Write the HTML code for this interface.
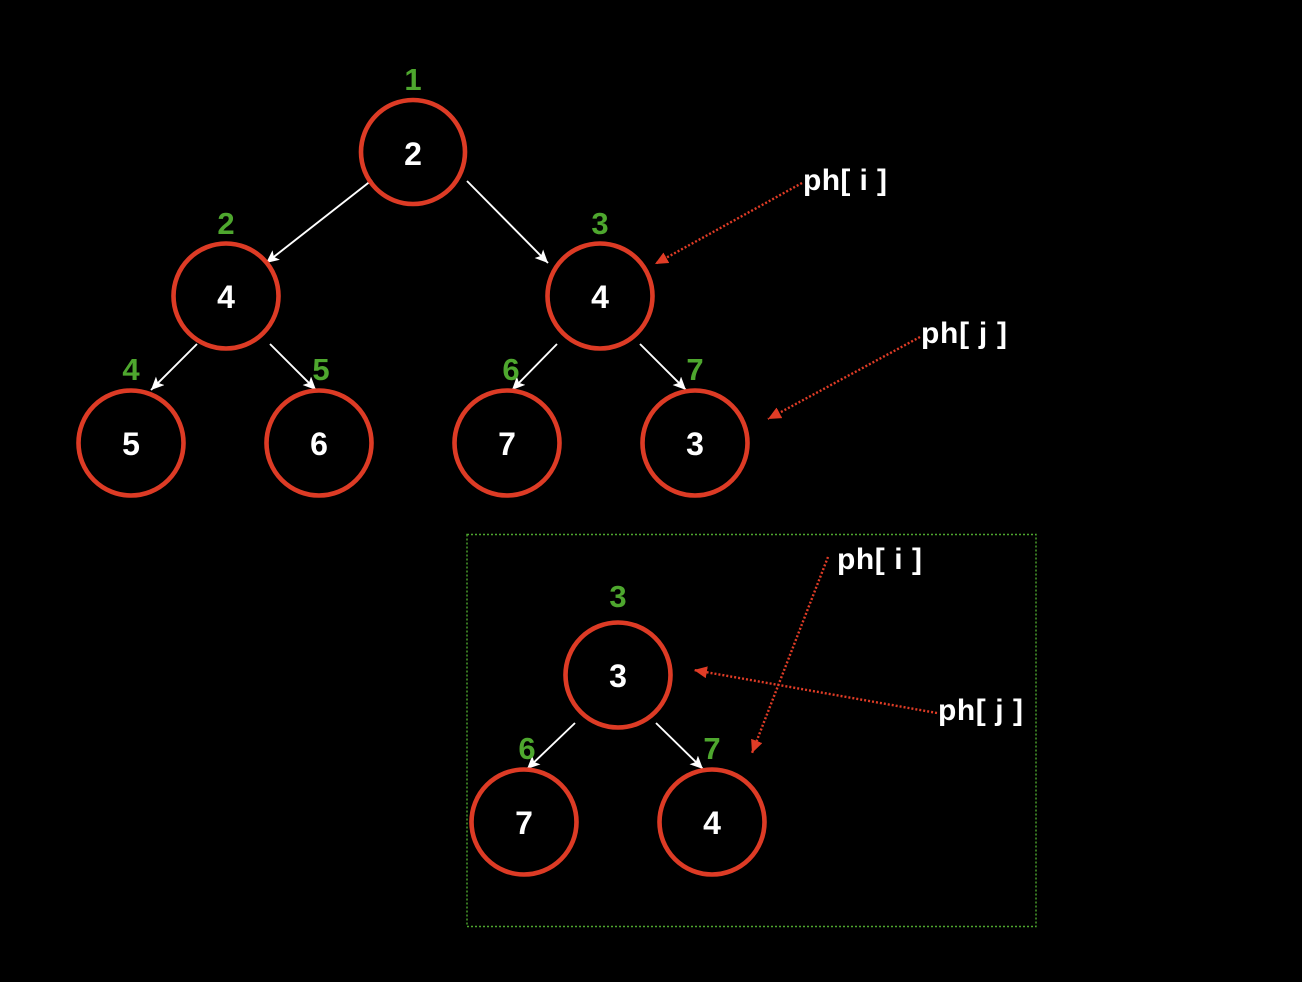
<!DOCTYPE html>
<html><head><meta charset="utf-8"><style>
html,body{margin:0;padding:0;background:#000;}
svg{display:block;}
text{font-family:"Liberation Sans",Arial,sans-serif;font-weight:bold;}
</style></head><body>
<svg width="1302" height="982" viewBox="0 0 1302 982" xmlns="http://www.w3.org/2000/svg">
<defs>
<marker id="wa" markerUnits="userSpaceOnUse" markerWidth="16" markerHeight="14" refX="13" refY="6" orient="auto">
<path d="M0,0 L13,6 L0,12 L3,6 z" fill="#fff"/>
</marker>
<marker id="ra" markerUnits="userSpaceOnUse" markerWidth="16" markerHeight="14" refX="13" refY="6" orient="auto">
<path d="M0,0 L13,6 L0,12 z" fill="#e03c26"/>
</marker>
</defs>
<rect x="0" y="0" width="1302" height="982" fill="#000"/>

<!-- green dotted box -->
<rect x="467" y="534.5" width="569" height="392" fill="none" stroke="#4ea72e" stroke-width="1.4" stroke-dasharray="2,2"/>

<!-- white arrows -->
<g stroke="#fff" stroke-width="1.9" fill="none" marker-end="url(#wa)">
<line x1="372" y1="180" x2="266" y2="263"/>
<line x1="467" y1="181" x2="548" y2="263"/>
<line x1="197" y1="344" x2="151" y2="390"/>
<line x1="270" y1="344" x2="316" y2="390"/>
<line x1="557" y1="344" x2="512" y2="390"/>
<line x1="640" y1="344" x2="686" y2="390"/>
<line x1="575" y1="723" x2="527" y2="769"/>
<line x1="656" y1="723" x2="703" y2="769"/>
</g>

<!-- red dotted arrows -->
<g stroke="#e03c26" stroke-width="2.4" fill="none" stroke-dasharray="2,2" marker-end="url(#ra)">
<line x1="802" y1="183" x2="655" y2="264"/>
<line x1="920" y1="337" x2="768" y2="419"/>
<line x1="828" y1="557" x2="752" y2="753"/>
<line x1="937" y1="713" x2="694" y2="670"/>
</g>

<!-- circles -->
<g fill="none" stroke="#dd3b25" stroke-width="4.6">
<circle cx="413" cy="152" r="52"/>
<circle cx="226" cy="296" r="52.5"/>
<circle cx="600" cy="296" r="52.5"/>
<circle cx="131" cy="443" r="52.5"/>
<circle cx="319" cy="443" r="52.5"/>
<circle cx="507" cy="443" r="52.5"/>
<circle cx="695" cy="443" r="52.5"/>
<circle cx="618" cy="675" r="52.5"/>
<circle cx="524" cy="822" r="52.5"/>
<circle cx="712" cy="822" r="52.5"/>
</g>

<!-- white values -->
<g fill="#fff" font-size="32" text-anchor="middle">
<text x="413" y="165">2</text>
<text x="226" y="308">4</text>
<text x="600" y="308">4</text>
<text x="131" y="455">5</text>
<text x="319" y="455">6</text>
<text x="507" y="455">7</text>
<text x="695" y="455">3</text>
<text x="618" y="687">3</text>
<text x="524" y="834">7</text>
<text x="712" y="834">4</text>
</g>

<!-- green indices -->
<g fill="#4ea72e" font-size="31" text-anchor="middle">
<text x="413" y="90">1</text>
<text x="226" y="234">2</text>
<text x="600" y="234">3</text>
<text x="131" y="380">4</text>
<text x="321" y="380">5</text>
<text x="511" y="380">6</text>
<text x="695" y="380">7</text>
<text x="618" y="607">3</text>
<text x="527" y="759">6</text>
<text x="712" y="759">7</text>
</g>

<!-- pointer labels -->
<g fill="#fff" font-size="30">
<text x="803" y="190" textLength="84" lengthAdjust="spacing">ph[ i ]</text>
<text x="921" y="343" textLength="86" lengthAdjust="spacing">ph[ j ]</text>
<text x="837" y="569" textLength="85" lengthAdjust="spacing">ph[ i ]</text>
<text x="938" y="720" textLength="85" lengthAdjust="spacing">ph[ j ]</text>
</g>
</svg>
</body></html>
